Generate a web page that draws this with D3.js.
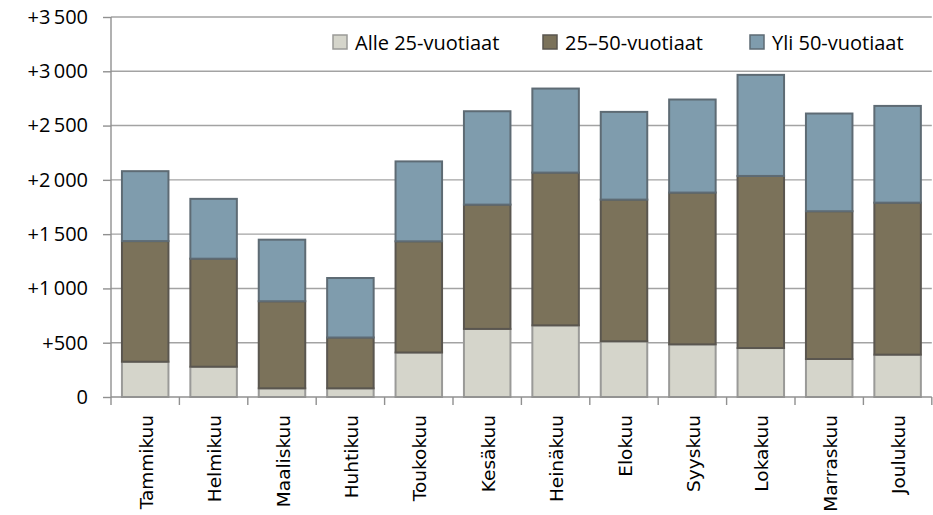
<!DOCTYPE html>
<html>
<head>
<meta charset="utf-8">
<script src="https://cdn.jsdelivr.net/npm/d3@7/dist/d3.min.js"></script>
<style>
  html, body { margin: 0; padding: 0; background: #fff; }
  svg { display: block; }
</style>
</head>
<body>
<svg id="chart" width="933" height="515"></svg>
<script>
const months = ["Tammikuu","Helmikuu","Maaliskuu","Huhtikuu","Toukokuu","Kesäkuu","Heinäkuu","Elokuu","Syyskuu","Lokakuu","Marraskuu","Joulukuu"];
const seriesNames = ["Alle 25-vuotiaat","25–50-vuotiaat","Yli 50-vuotiaat"];
const alle25 = [325, 279, 80, 80, 410, 627, 660, 513, 485, 451, 350, 390];
const mid2550 = [1111, 995, 802, 468, 1024, 1145, 1407, 1305, 1398, 1585, 1361, 1400];
const yli50 = [644, 551, 567, 548, 736, 860, 774, 808, 857, 931, 900, 891];
const yTicks = [0, 500, 1000, 1500, 2000, 2500, 3000, 3500];

const fills = ["#d5d5cb", "#7b725a", "#7f9cad"];
const strokes = ["#9a9a98", "#5a564f", "#5e6b74"];

const svg = d3.select("#chart");
const plotLeft = 111, plotRight = 931.8, plotTop = 17, plotBottom = 397;

const x = d3.scaleBand().domain(months).range([plotLeft, plotRight]).paddingInner(0.32).paddingOuter(0.16);
const y = d3.scaleLinear().domain([0, 3500]).range([plotBottom, plotTop]);

const table = months.map((m, i) => ({ month: m, s0: alle25[i], s1: mid2550[i], s2: yli50[i] }));
const stack = d3.stack().keys(["s0", "s1", "s2"]);
const layers = stack(table);

// gridlines
svg.append("g").selectAll("line").data(yTicks.filter(d => d > 0)).join("line")
  .attr("x1", plotLeft).attr("x2", plotRight)
  .attr("y1", d => y(d)).attr("y2", d => y(d))
  .attr("stroke", "#a3a3a3").attr("stroke-width", 1.4);

// y axis
const fmt = d => d === 0 ? "0" : "+" + d3.format(",")(d).replace(",", "\u2009");
const yAxis = svg.append("g").attr("transform", `translate(${plotLeft},0)`)
  .call(d3.axisLeft(y).tickValues(yTicks).tickSize(8).tickPadding(15).tickFormat(fmt));
yAxis.select(".domain").remove();
yAxis.selectAll("line").attr("stroke", "#909090").attr("stroke-width", 1.4);
yAxis.selectAll("text").attr("font-family", "'Open Sans', sans-serif").attr("font-size", 20).attr("fill", "#000");

// bars
const gBars = svg.append("g");
layers.forEach((layer, li) => {
  gBars.append("g").selectAll("rect").data(layer).join("rect")
    .attr("x", d => x(d.data.month))
    .attr("width", x.bandwidth())
    .attr("y", d => y(d[1]))
    .attr("height", d => y(d[0]) - y(d[1]))
    .attr("fill", fills[li])
    .attr("stroke", strokes[li])
    .attr("stroke-width", 2);
});

// x axis baseline and ticks
svg.append("line").attr("x1", plotLeft).attr("x2", plotRight).attr("y1", plotBottom).attr("y2", plotBottom)
  .attr("stroke", "#909090").attr("stroke-width", 1.4);
svg.append("line").attr("x1", plotLeft).attr("x2", plotLeft).attr("y1", plotTop).attr("y2", plotBottom + 8)
  .attr("stroke", "#909090").attr("stroke-width", 1.4);
const step = x.step();
svg.append("g").selectAll("line").data(months).join("line")
  .attr("x1", d => x(d) - x.paddingInner() * step / 2 + step)
  .attr("x2", d => x(d) - x.paddingInner() * step / 2 + step)
  .attr("y1", plotBottom).attr("y2", plotBottom + 8)
  .attr("stroke", "#909090").attr("stroke-width", 1.4);

// x labels
svg.append("g").selectAll("text").data(months).join("text")
  .attr("transform", d => `translate(${x(d) + x.bandwidth() / 2 + 1},415) rotate(-90)`)
  .attr("text-anchor", "end").attr("dy", "0.36em")
  .attr("font-family", "'DejaVu Sans', sans-serif").attr("font-size", 18.5).attr("fill", "#000")
  .text(d => d);

// legend
const legendX = [333, 543, 750];
const lg = svg.append("g");
seriesNames.forEach((name, i) => {
  lg.append("rect").attr("x", legendX[i]).attr("y", 35).attr("width", 14).attr("height", 14)
    .attr("fill", fills[i]).attr("stroke", strokes[i]).attr("stroke-width", 1.5);
  lg.append("text").attr("x", legendX[i] + 22).attr("y", 43).attr("dy", "0.35em")
    .attr("font-family", "'Open Sans', sans-serif").attr("font-size", 20).attr("fill", "#000")
    .text(name);
});
</script>
</body>
</html>
